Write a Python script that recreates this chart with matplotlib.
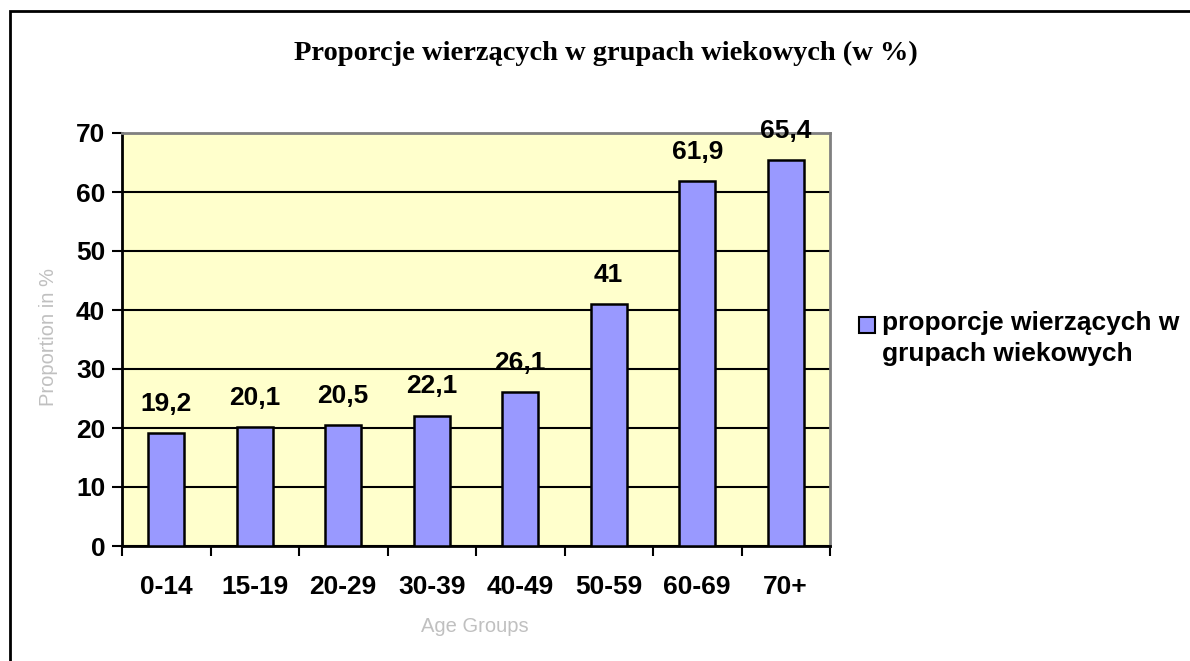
import matplotlib
matplotlib.use("Agg")
import matplotlib.pyplot as plt
from matplotlib.patches import Rectangle

categories = ["0-14", "15-19", "20-29", "30-39", "40-49", "50-59", "60-69", "70+"]
values = [19.2, 20.1, 20.5, 22.1, 26.1, 41, 61.9, 65.4]
value_labels = ["19,2", "20,1", "20,5", "22,1", "26,1", "41", "61,9", "65,4"]
yticks = [0, 10, 20, 30, 40, 50, 60, 70]
series_name = "proporcje wierzących w\ngrupach wiekowych"

W, H = 1190, 661
fig = plt.figure(figsize=(W / 100, H / 100), dpi=100)
fig.patch.set_facecolor("white")

# outer frame (extends beyond right/bottom edge)
fig.patches.append(Rectangle((10 / W, -0.05), 1.2, 1 - 10 / H + 0.05 - 0.0015,
                             transform=fig.transFigure, fill=False,
                             edgecolor="black", linewidth=2, zorder=0))

ax = fig.add_axes([122 / W, 1 - 546 / H, (830 - 122) / W, (546 - 133) / H])
ax.set_facecolor("#FFFFCC")

FS = 19
BAR_COLOR = "#9999FF"
x = list(range(len(categories)))
bars = ax.bar(x, values, width=0.41, color=BAR_COLOR, edgecolor="black",
              linewidth=1.8, zorder=3)

for xi, v, lab in zip(x, values, value_labels):
    ax.annotate(lab, (xi, v), xytext=(0, 21), textcoords="offset points",
                ha="center", va="center", fontsize=FS, fontweight="bold",
                family="Liberation Sans", zorder=5, annotation_clip=False)

ax.set_xlim(-0.5, len(categories) - 0.5)
ax.set_ylim(0, 70)
ax.set_yticks(yticks)
ax.set_yticklabels([str(t) for t in yticks], fontsize=FS, fontweight="bold",
                   family="Liberation Sans")
ax.yaxis.grid(True, color="black", linewidth=1.5, zorder=1)
ax.set_axisbelow(True)

ax.set_xticks([i + 0.5 for i in range(-1, len(categories))])
ax.set_xticklabels([])
ax.set_xticks(x, minor=True)
ax.set_xticklabels(categories, minor=True, fontsize=FS, fontweight="bold",
                   family="Liberation Sans")
ax.tick_params(axis="x", which="minor", length=0, pad=21)
ax.tick_params(axis="x", which="major", length=7, width=1.5, direction="out")
ax.tick_params(axis="y", length=7, width=1.5, direction="out", pad=5)

for s in ["left", "bottom"]:
    ax.spines[s].set_color("black")
    ax.spines[s].set_linewidth(2)
for s in ["top", "right"]:
    ax.spines[s].set_color("#808080")
    ax.spines[s].set_linewidth(2)

fig.text(606 / W, 1 - 53 / H, "Proporcje wierzących w grupach wiekowych (w %)",
         ha="center", va="center", fontsize=20.5, fontweight="bold",
         family="Liberation Serif")
fig.text(48 / W, 1 - 337 / H, "Proportion in %", rotation=90, ha="center",
         va="center", fontsize=14.5, color="#C0C0C0", family="Liberation Sans")
fig.text(475 / W, 1 - 627 / H, "Age Groups", ha="center", va="center",
         fontsize=14.5, color="#C0C0C0", family="Liberation Sans")

# legend (drawn manually so the key aligns with the first line)
fig.patches.append(Rectangle((859 / W, 1 - 333 / H), 16 / W, 16 / H,
                             transform=fig.transFigure, facecolor=BAR_COLOR,
                             edgecolor="black", linewidth=1.5, zorder=5))
fig.text(882 / W, 1 - 311 / H, series_name, ha="left", va="top",
         fontsize=FS, fontweight="bold", family="Liberation Sans",
         linespacing=1.38)

fig.savefig("out.png", dpi=100)
